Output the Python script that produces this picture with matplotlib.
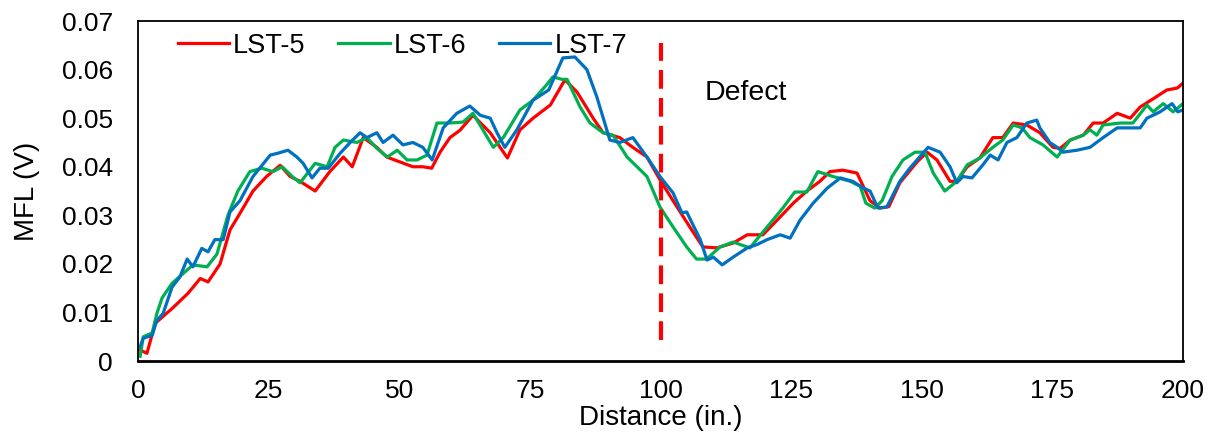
import numpy as np
import matplotlib
matplotlib.use("Agg")
import matplotlib.pyplot as plt

plt.rcParams['font.family'] = ['Liberation Sans', 'DejaVu Sans']

# LST-5 (red)
x5 = [0.4, 1.7, 3.3, 6.7, 9.6, 11.9, 13.4, 15.7, 17.6, 19.5, 22, 24.6, 27.2, 29.1, 31, 33.9,
      36.7, 39.3, 41, 43.1, 45.7, 47.6, 50.1, 52.6, 54.5, 56.2, 57.8, 59.7, 61.6, 64.1, 67.4,
      69.3, 70.7, 73.1, 75.6, 78.9, 81.7, 84, 87.1, 89, 92.2, 94.7, 97.4, 99.9, 102.4, 105.6,
      108.1, 110.8, 113.9, 116.6, 119.6, 122.3, 125.4, 128, 130.5, 132.4, 134.9, 137.6, 140.1,
      142, 143.7, 145.8, 149.1, 151, 152.9, 155.4, 156.7, 158.7, 161.1, 163.6, 165.5, 167.5,
      170.1, 172.6, 175.1, 176.5, 178.4, 180.9, 182.8, 184.7, 187.4, 189.9, 191.8, 194.3,
      196.9, 198.9, 200]
y5 = [0.0023, 0.0016, 0.0078, 0.011, 0.014, 0.017, 0.0163, 0.020, 0.027, 0.0304, 0.035, 0.038,
      0.0403, 0.038, 0.037, 0.035, 0.039, 0.042, 0.040, 0.046, 0.044, 0.042, 0.041, 0.040, 0.040,
      0.0397, 0.043, 0.046, 0.0475, 0.0506, 0.047, 0.044, 0.0418, 0.0476, 0.050, 0.0527, 0.0579,
      0.0554, 0.050, 0.047, 0.046, 0.044, 0.042, 0.0373, 0.033, 0.0276, 0.0235, 0.0233, 0.0243,
      0.026, 0.026, 0.029, 0.0325, 0.035, 0.037, 0.039, 0.0393, 0.0387, 0.033, 0.0315, 0.0318,
      0.0367, 0.041, 0.043, 0.0414, 0.037, 0.037, 0.040, 0.0418, 0.046, 0.046, 0.049, 0.0486,
      0.047, 0.044, 0.0438, 0.0455, 0.0465, 0.049, 0.049, 0.051, 0.050, 0.0523, 0.054, 0.0558,
      0.0562, 0.0572]

# LST-6 (green)
x6 = [0.4, 1, 2.7, 3.6, 4.6, 6.5, 8.6, 10.5, 13.2, 15.1, 17.2, 19.1, 21.4, 23.7, 25.8, 27.6,
      29.5, 31, 33.9, 36.2, 37.7, 39.3, 41.9, 43.8, 45.7, 47.7, 49.6, 51.5, 53.4, 55.3, 57.2,
      59.7, 62.2, 64.1, 66, 68, 69.9, 73.1, 75.6, 78.3, 79.4, 81.1, 82.1, 84.6, 86.5, 89, 90.9,
      93.6, 95.5, 97.4, 99.9, 102.4, 105, 106.9, 108.8, 111.4, 113.9, 117.1, 120.4, 123.4,
      125.7, 128, 130.1, 133, 136.3, 138.2, 139.3, 141, 142.4, 144.3, 146.4, 148.7, 150.6,
      152.2, 154.4, 156.7, 158.7, 161.1, 163.6, 165.5, 167.5, 169.2, 170.7, 173.2, 175.9,
      178.4, 180.9, 182.2, 183.5, 184.7, 188, 190.4, 193.1, 194.3, 196.2, 198.1, 200]
y6 = [0.001, 0.005, 0.0058, 0.0098, 0.013, 0.016, 0.018, 0.0198, 0.0194, 0.022, 0.030, 0.035,
      0.039, 0.0397, 0.039, 0.040, 0.038, 0.0367, 0.0407, 0.040, 0.044, 0.0455, 0.045, 0.046,
      0.0438, 0.042, 0.0434, 0.0414, 0.0414, 0.0424, 0.049, 0.049, 0.0492, 0.051, 0.0476, 0.044,
      0.046, 0.0517, 0.0537, 0.057, 0.0585, 0.058, 0.058, 0.0523, 0.049, 0.047, 0.0465, 0.042,
      0.040, 0.038, 0.0317, 0.0276, 0.0235, 0.021, 0.021, 0.0235, 0.0245, 0.0233, 0.0276,
      0.0315, 0.0348, 0.0348, 0.039, 0.038, 0.037, 0.036, 0.0325, 0.0315, 0.033, 0.038, 0.0414,
      0.043, 0.043, 0.0387, 0.035, 0.037, 0.0404, 0.0418, 0.044, 0.0455, 0.0486, 0.048, 0.046,
      0.0445, 0.042, 0.0455, 0.0465, 0.0476, 0.0465, 0.0486, 0.049, 0.049, 0.0527, 0.0513,
      0.053, 0.0513, 0.053]

# LST-7 (blue)
x7 = [0.4, 1, 2.7, 3.6, 4.8, 6.5, 8, 9.4, 10.5, 12.2, 13.4, 14.7, 16.3, 17.6, 19.5, 22, 25.3,
      26.8, 28.7, 30.4, 31.6, 33.3, 34.8, 36.4, 38.7, 40.6, 42.5, 43.8, 45.7, 46.9, 48.8, 50.7,
      52.6, 54.5, 56.3, 58.4, 61, 63.5, 65.5, 67.4, 68.7, 70.2, 72.5, 75.6, 78.6, 81.3, 83.6,
      85.9, 87.8, 90.3, 92.2, 94.7, 97.4, 99.9, 102.4, 104.1, 105, 107.6, 108.9, 110.1, 111.8,
      113.9, 116.6, 118.5, 120.4, 122.9, 124.8, 126.7, 129.2, 131.9, 134.4, 136.8, 138.8,
      140.1, 141.6, 143.3, 145.8, 147.7, 151.2, 153.5, 155.4, 156.7, 157.9, 159.6, 161.7,
      163.1, 164.6, 166.3, 168.2, 170.1, 172, 172.6, 174.5, 175.9, 177, 179.7, 182.2, 184.7,
      187.4, 189.9, 191.8, 193.1, 195.6, 197.9, 199, 200]
y7 = [0.003, 0.0047, 0.0053, 0.0084, 0.0098, 0.0152, 0.0173, 0.021, 0.0194, 0.0232, 0.0225,
      0.025, 0.025, 0.0307, 0.033, 0.038, 0.0424, 0.0428, 0.0434, 0.042, 0.0407, 0.0377, 0.0397,
      0.0397, 0.0428, 0.045, 0.047, 0.046, 0.047, 0.045, 0.0465, 0.0445, 0.045, 0.044, 0.0414,
      0.048, 0.051, 0.0525, 0.0506, 0.050, 0.047, 0.044, 0.0476, 0.0537, 0.0558, 0.0624, 0.0626,
      0.060, 0.0544, 0.0455, 0.045, 0.046, 0.042, 0.038, 0.0346, 0.0305, 0.0307, 0.025, 0.0208,
      0.0214, 0.0198, 0.0214, 0.0233, 0.024, 0.025, 0.026, 0.0253, 0.029, 0.0325, 0.0356,
      0.0377, 0.037, 0.0356, 0.035, 0.0315, 0.0317, 0.037, 0.0397, 0.044, 0.043, 0.040, 0.0367,
      0.038, 0.0377, 0.0404, 0.0424, 0.0414, 0.045, 0.046, 0.049, 0.0496, 0.048, 0.045, 0.044,
      0.043, 0.0434, 0.044, 0.046, 0.048, 0.048, 0.048, 0.050, 0.0513, 0.053, 0.0513, 0.0517]

defect_x = 100
defect_span = [0.0043, 0.0655]
xticks = [0, 25, 50, 75, 100, 125, 150, 175, 200]
yticks = [0, 0.01, 0.02, 0.03, 0.04, 0.05, 0.06, 0.07]
ytick_labels = ["0", "0.01", "0.02", "0.03", "0.04", "0.05", "0.06", "0.07"]

fig = plt.figure(figsize=(12.13, 4.34), dpi=100)
ax = fig.add_axes([0.1138, 0.168, 0.8615, 0.7836])

ax.plot(x5, y5, color="#FF0000", lw=2.3, label="LST-5")
ax.plot(x6, y6, color="#00B050", lw=2.3, label="LST-6")
ax.plot(x7, y7, color="#0070C0", lw=2.3, label="LST-7")
ax.plot([defect_x, defect_x], defect_span, color="#FF0000", lw=3, dashes=(4.5, 2.2))
ax.text(108.5, 0.0552, "Defect", fontsize=20.5, va="center", ha="left")

ax.set_xlim(0, 200)
ax.set_ylim(0, 0.07)
ax.set_xticks(xticks)
ax.set_yticks(yticks)
ax.set_yticklabels(ytick_labels)
ax.tick_params(length=0, labelsize=19)
ax.tick_params(axis="y", pad=18)
ax.tick_params(axis="x", pad=13)
for s in ax.spines.values():
    s.set_linewidth(1.3)
ax.spines["bottom"].set_linewidth(2)

ax.set_xlabel("Distance (in.)", fontsize=20, labelpad=1)
ax.set_ylabel("MFL (V)", fontsize=20, labelpad=16)

ax.legend(loc="upper left", ncol=3, frameon=False, fontsize=19.5, handlelength=1.9,
          handletextpad=0.15, columnspacing=1.2, borderaxespad=0.1,
          bbox_to_anchor=(0.025, 1.005))

fig.savefig("out.png", dpi=100)
